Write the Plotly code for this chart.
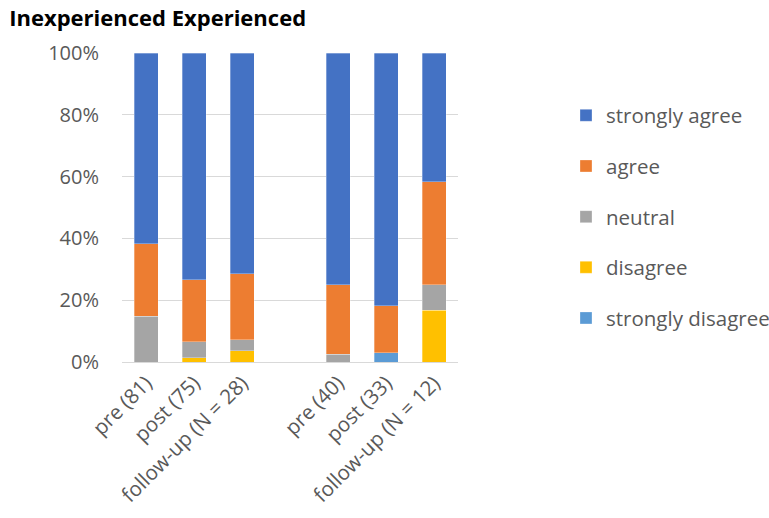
import plotly.graph_objects as go

categories = ["pre (81)", "post (75)", "follow-up (N = 28)", " ",
              "pre (40)", "post (33)", "follow-up (N = 12)"]

strongly_disagree = [0.0, 0.0, 0.0, None, 0.0, 3.0, 0.0]
disagree = [0.0, 1.3, 3.6, None, 0.0, 0.0, 16.7]
neutral = [14.8, 5.3, 3.6, None, 2.5, 0.0, 8.3]
agree = [23.5, 20.0, 21.4, None, 22.5, 15.2, 33.3]
strongly_agree = [61.7, 73.4, 71.4, None, 75.0, 81.8, 41.7]

series = [
    ("strongly disagree", strongly_disagree, "#5B9BD5"),
    ("disagree", disagree, "#FFC000"),
    ("neutral", neutral, "#A5A5A5"),
    ("agree", agree, "#ED7D31"),
    ("strongly agree", strongly_agree, "#4472C4"),
]

fig = go.Figure()
for i, (name, vals, col) in enumerate(series):
    fig.add_trace(go.Bar(
        x=categories, y=[None if v is None else v / 100 for v in vals],
        name=name, legendgroup=name, legendrank=1000 - i,
        marker=dict(color=col, line=dict(color="rgba(255,255,255,0.6)", width=0.5)),
        width=0.5,
    ))

font_family = "'Open Sans', sans-serif"
fig.update_layout(
    barmode="stack",
    width=769, height=518,
    margin=dict(l=122, r=311, t=53, b=156),
    plot_bgcolor="white", paper_bgcolor="white",
    font=dict(family=font_family, size=20, color="#595959"),
    title=dict(text="<b>Inexperienced Experienced</b>", x=0.012, xanchor="left",
               xref="container", y=1 - 18 / 518, yref="container", yanchor="middle",
               font=dict(family=font_family, size=22, color="black")),
    legend=dict(xref="container", yref="container", x=566 / 769, xanchor="left",
                y=1 - 217 / 518, yanchor="middle",
                traceorder="grouped", tracegroupgap=21,
                font=dict(size=20.5, color="#595959"), itemwidth=30),
    xaxis=dict(type="category", categoryorder="array", categoryarray=categories,
               tickangle=-45, showgrid=False, showline=True, linecolor="#D9D9D9",
               linewidth=1, ticks="", automargin=False,
               tickfont=dict(size=20.5, color="#595959")),
    yaxis=dict(range=[0, 1], tickformat=".0%", dtick=0.2, showgrid=True,
               gridcolor="#D9D9D9", gridwidth=1, zeroline=False, ticks="",
               automargin=False,
               ticklabelstandoff=22, tickfont=dict(size=20, color="#595959")),
)

fig.write_html("out.html")
